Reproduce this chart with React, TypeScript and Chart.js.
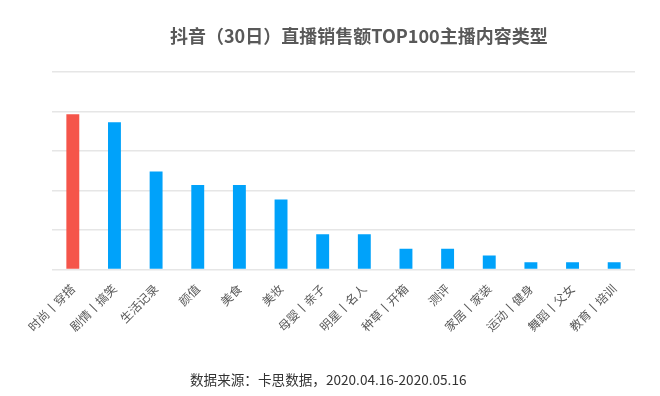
import React, { useEffect, useRef } from "react";
import { Chart, registerables } from "chart.js";

Chart.register(...registerables);

const TITLE = "抖音（30日）直播销售额TOP100主播内容类型";
const SOURCE = "数据来源：卡思数据，2020.04.16-2020.05.16";

const categories = [
  "时尚丨穿搭",
  "剧情丨搞笑",
  "生活记录",
  "颜值",
  "美食",
  "美妆",
  "母婴丨亲子",
  "明星丨名人",
  "种草丨开箱",
  "测评",
  "家居丨家装",
  "运动丨健身",
  "舞蹈丨父女",
  "教育丨培训",
];

const values = [3.93, 3.73, 2.48, 2.14, 2.14, 1.77, 0.89, 0.89, 0.52, 0.52, 0.35, 0.18, 0.18, 0.18];

const HIGHLIGHT = "#F5554A";
const BASE = "#00A2FA";

export default function App() {
  const ref = useRef<HTMLCanvasElement | null>(null);

  useEffect(() => {
    if (!ref.current) return;
    const chart = new Chart(ref.current, {
      type: "bar",
      data: {
        labels: categories,
        datasets: [
          {
            data: values,
            backgroundColor: values.map((_, i) => (i === 0 ? HIGHLIGHT : BASE)),
            barPercentage: 0.31,
            categoryPercentage: 1,
          },
        ],
      },
      options: {
        animation: false,
        responsive: false,
        maintainAspectRatio: false,
        layout: { padding: { top: 72, left: 52, right: 25, bottom: 58 } },
        plugins: {
          legend: { display: false },
          tooltip: { enabled: false },
          title: { display: false },
        },
        scales: {
          x: {
            grid: { display: false },
            border: { display: false },
            ticks: {
              minRotation: 45,
              maxRotation: 45,
              color: "#595959",
              padding: 4,
              font: { family: "'Noto Sans CJK SC', sans-serif", size: 12 },
            },
          },
          y: {
            min: 0,
            max: 5,
            ticks: { display: false, stepSize: 1 },
            border: { display: false },
            grid: { color: "#e6e6e6", lineWidth: 1.5, drawTicks: false },
          },
        },
      },
    });
    return () => chart.destroy();
  }, []);

  return (
    <div style={{ position: "fixed", left: 0, top: 0, width: 660, height: 396, background: "#fff" }}>
      <canvas ref={ref} width={660} height={396} style={{ position: "absolute", left: 0, top: 0 }} />
      <div
        style={{
          position: "absolute",
          left: 170,
          top: 23,
          fontFamily: "'Noto Sans CJK SC', sans-serif",
          fontWeight: "bold",
          fontSize: 18,
          color: "#595959",
          whiteSpace: "nowrap",
          lineHeight: "24px",
        }}
      >
        {TITLE}
      </div>
      <div
        style={{
          position: "absolute",
          left: 190,
          top: 370,
          fontFamily: "'Noto Sans CJK SC', sans-serif",
          fontSize: 13.6,
          color: "#333",
          whiteSpace: "nowrap",
          lineHeight: "18px",
        }}
      >
        {SOURCE}
      </div>
    </div>
  );
}
